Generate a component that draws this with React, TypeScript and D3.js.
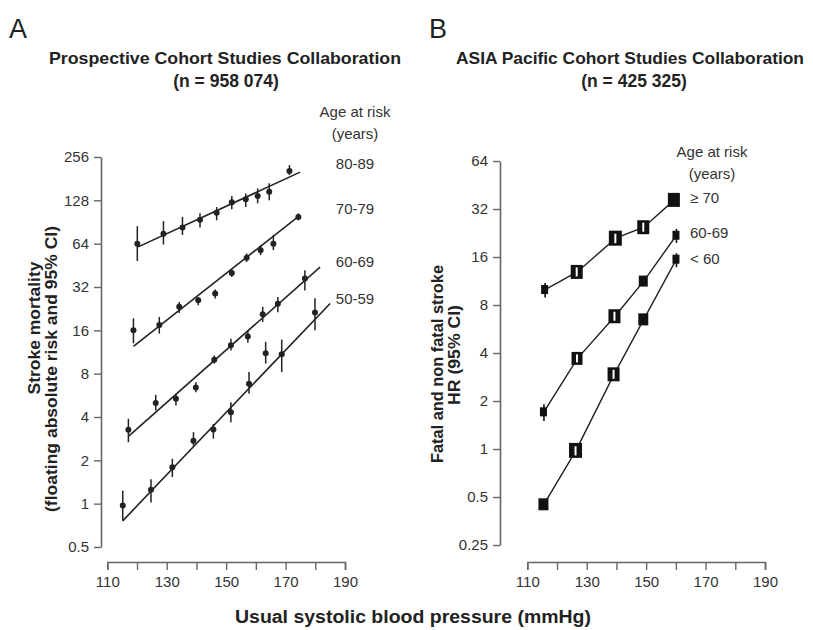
import React, { useEffect, useRef } from "react";
import * as d3 from "d3";

// ---------- Panel A data (Prospective Cohort Studies Collaboration) ----------
const groupsA = ["80-89", "70-79", "60-69", "50-59"];
const bpA80 = [120.1, 128.9, 135.3, 141.2, 146.8, 151.9, 156.6, 160.6, 164.5, 171.3];
const valA80 = [64, 75, 83, 94, 105, 124, 130, 137, 147, 205];
const loA80 = [48.5, 63.2, 73.5, 83, 93, 111, 115, 122, 128, 192];
const hiA80 = [84.6, 91.8, 98.3, 104, 115, 137, 143, 155, 168, 225];

const bpA70 = [118.8, 127.5, 134.2, 140.6, 146.3, 151.9, 156.9, 161.6, 165.9, 174.3];
const valA70 = [16, 17.4, 23.3, 25.9, 28.8, 40, 51, 57.7, 64, 98];
const loA70 = [13, 15.2, 21.1, 23.9, 26.6, 37.6, 47.8, 53.2, 57.7, 93];
const hiA70 = [19.4, 19.8, 25.2, 27.3, 30.7, 42.3, 54.7, 62.5, 73.5, 104];

const bpA60 = [117.1, 126.3, 133.1, 139.8, 146, 151.6, 157.3, 162.3, 167.4, 176.5];
const valA60 = [3.26, 5.0, 5.35, 6.4, 10, 12.6, 14.5, 20.7, 24.5, 36.7];
const loA60 = [2.67, 4.44, 4.8, 5.95, 9.4, 11.6, 13.1, 18.3, 21.4, 30.3];
const hiA60 = [3.89, 5.7, 5.8, 6.98, 10.7, 14, 16, 23.3, 27.3, 41.9];

const bpA50 = [115.2, 124.7, 131.9, 139, 145.7, 151.6, 157.7, 163.3, 168.7, 179.9];
const valA50 = [0.97, 1.25, 1.79, 2.74, 3.27, 4.32, 6.8, 11.1, 10.9, 21.3];
const loA50 = [0.76, 1.02, 1.53, 2.53, 2.83, 3.68, 5.8, 9.4, 8.2, 16];
const hiA50 = [1.23, 1.48, 2.05, 3.14, 3.58, 5.06, 8.2, 13.3, 13.8, 26.7];

// fitted regression lines: [bpStart, valueStart, bpEnd, valueEnd]
const fitA80 = [120.4, 60.8, 174.9, 201];
const fitA70 = [118.8, 12.4, 174.9, 101];
const fitA60 = [117.1, 2.93, 181.6, 44];
const fitA50 = [115.2, 0.76, 185, 24.6];

const yTicksA = [0.5, 1, 2, 4, 8, 16, 32, 64, 128, 256];
const xTicks = [110, 120, 130, 140, 150, 160, 170, 180, 190];
const xTickLabels = [110, 130, 150, 170, 190];

// ---------- Panel B data (Asia Pacific Cohort Studies Collaboration) ----------
const groupsB = ["\u2265 70", "60-69", "< 60"];
const bpB70 = [116, 126.8, 139.8, 149.2, 159.5];
const valB70 = [10.0, 12.9, 21, 24.6, 36.5];
const loB70 = [8.9, 11.8, 19.4, 22.6, 34.6];
const hiB70 = [11.0, 13.8, 22.4, 26.6, 38.4];
const sizeB70 = [8, 13, 14, 13, 13];

const bpB60 = [115.6, 126.9, 139.5, 149.2, 160.2];
const valB60 = [1.71, 3.7, 6.8, 11.3, 21.9];
const loB60 = [1.5, 3.43, 6.2, 10.6, 19.6];
const hiB60 = [1.91, 4.0, 7.4, 12.0, 24];
const sizeB60 = [8, 12, 13, 10, 8];

const bpBlt = [115.6, 126.4, 139.2, 149.2, 160.2];
const valBlt = [0.45, 0.98, 2.94, 6.5, 15.5];
const loBlt = [0.43, 0.9, 2.75, 6.1, 13.8];
const hiBlt = [0.47, 1.04, 3.17, 6.9, 16.9];
const sizeBlt = [11, 14, 13, 11, 8];

const yTicksB = [0.25, 0.5, 1, 2, 4, 8, 16, 32, 64];

const FONT = "'Liberation Sans', Arial, sans-serif";
const INK = "#222";
const AXIS = "#666";
const TXT = "#333";

export default function App() {
  const ref = useRef<SVGSVGElement | null>(null);

  useEffect(() => {
    const svg = d3.select(ref.current);
    svg.selectAll("*").remove();

    const xA = d3.scaleLinear().domain([110, 190]).range([107.3, 345]);
    const yA = d3.scaleLog().base(2).domain([0.5, 256]).range([547, 157]);
    const xB = d3.scaleLinear().domain([110, 190]).range([527.3, 765]);
    const yB = d3.scaleLog().base(2).domain([0.25, 64]).range([545, 161]);

    const fmt = (d: number) => String(d);

    const styleAxis = (g: any) => {
      g.selectAll("path").attr("stroke", AXIS).attr("stroke-width", 1.6);
      g.selectAll("line").attr("stroke", AXIS).attr("stroke-width", 1.4);
      g.selectAll("text")
        .attr("fill", TXT)
        .style("font-family", FONT)
        .style("font-size", "15px");
      g.attr("font-family", null).attr("font-size", null);
    };

    // ---- axes A ----
    const gyA = svg.append("g").attr("transform", "translate(101,0)")
      .call(d3.axisLeft(yA).tickValues(yTicksA).tickFormat(fmt as any).tickSize(7).tickSizeOuter(0).tickPadding(5));
    styleAxis(gyA);
    const gxA = svg.append("g").attr("transform", "translate(0,562)")
      .call(d3.axisBottom(xA).tickValues(xTicks).tickFormat((d: any) => (xTickLabels.includes(d) ? String(d) : "")).tickSize(8).tickSizeOuter(8).tickPadding(6));
    styleAxis(gxA);

    // ---- axes B ----
    const gyB = svg.append("g").attr("transform", "translate(500,0)")
      .call(d3.axisLeft(yB).tickValues(yTicksB).tickFormat(fmt as any).tickSize(7).tickSizeOuter(0).tickPadding(5));
    styleAxis(gyB);
    const gxB = svg.append("g").attr("transform", "translate(0,562)")
      .call(d3.axisBottom(xB).tickValues(xTicks).tickFormat((d: any) => (xTickLabels.includes(d) ? String(d) : "")).tickSize(8).tickSizeOuter(8).tickPadding(6));
    styleAxis(gxB);

    // ---- panel A marks ----
    const seriesA = [
      { bp: bpA80, v: valA80, lo: loA80, hi: hiA80, fit: fitA80 },
      { bp: bpA70, v: valA70, lo: loA70, hi: hiA70, fit: fitA70 },
      { bp: bpA60, v: valA60, lo: loA60, hi: hiA60, fit: fitA60 },
      { bp: bpA50, v: valA50, lo: loA50, hi: hiA50, fit: fitA50 },
    ];
    const gA = svg.append("g");
    seriesA.forEach((s) => {
      const line = d3.line<number[]>().x((d) => xA(d[0])).y((d) => yA(d[1]));
      gA.append("path")
        .attr("d", line([[s.fit[0], s.fit[1]], [s.fit[2], s.fit[3]]]))
        .attr("stroke", INK).attr("stroke-width", 1.6).attr("fill", "none");
      s.bp.forEach((b, i) => {
        gA.append("line")
          .attr("x1", xA(b)).attr("x2", xA(b))
          .attr("y1", yA(s.lo[i])).attr("y2", yA(s.hi[i]))
          .attr("stroke", INK).attr("stroke-width", 1.5);
        gA.append("circle")
          .attr("cx", xA(b)).attr("cy", yA(s.v[i])).attr("r", 3)
          .attr("fill", INK);
      });
    });

    // ---- panel B marks ----
    const seriesB = [
      { bp: bpB70, v: valB70, lo: loB70, hi: hiB70, sz: sizeB70 },
      { bp: bpB60, v: valB60, lo: loB60, hi: hiB60, sz: sizeB60 },
      { bp: bpBlt, v: valBlt, lo: loBlt, hi: hiBlt, sz: sizeBlt },
    ];
    const gB = svg.append("g");
    seriesB.forEach((s) => {
      const pts = s.bp.map((b, i) => [b, s.v[i]]);
      const line = d3.line<number[]>().x((d) => xB(d[0])).y((d) => yB(d[1]));
      gB.append("path").attr("d", line(pts)).attr("stroke", INK)
        .attr("stroke-width", 1.4).attr("fill", "none");
      s.bp.forEach((b, i) => {
        const cx = xB(b), cy = yB(s.v[i]), h = s.sz[i];
        const span = yB(s.lo[i]) - yB(s.hi[i]);
        gB.append("line")
          .attr("x1", cx).attr("x2", cx)
          .attr("y1", yB(s.lo[i])).attr("y2", yB(s.hi[i]))
          .attr("stroke", "#111").attr("stroke-width", 1.6);
        gB.append("rect")
          .attr("x", cx - h / 2).attr("y", cy - h / 2 - 0.5)
          .attr("width", h - 1).attr("height", h + 1)
          .attr("fill", "#111");
        if (h >= 12 && span > 9) {
          const top = Math.max(yB(s.hi[i]), cy - h / 2 + 2);
          const bot = Math.min(yB(s.lo[i]), cy + h / 2 - 2);
          gB.append("line")
            .attr("x1", cx - 0.5).attr("x2", cx - 0.5)
            .attr("y1", top).attr("y2", bot)
            .attr("stroke", "#fff").attr("stroke-width", 2);
        }
      });
    });

    // ---- text helpers ----
    const t = (x: number, y: number, s: string, opts: any = {}) => {
      const el = svg.append("text").attr("x", x).attr("y", y).text(s)
        .attr("fill", opts.fill || TXT)
        .attr("text-anchor", opts.anchor || "middle")
        .attr("font-weight", opts.weight || "normal")
        .style("font-family", FONT)
        .style("font-size", (opts.size || 15) + "px");
      if (opts.len) el.attr("textLength", opts.len).attr("lengthAdjust", "spacingAndGlyphs");
      return el;
    };

    t(355, 117, "Age at risk");
    t(355, 139, "(years)");
    groupsA.forEach((g, i) => t(355, [169, 214, 267, 304][i], g));

    t(712, 157, "Age at risk");
    t(712, 179, "(years)");
    groupsB.forEach((g, i) => t(690, [203, 238, 264][i], g, { anchor: "start" }));

    // ---- titles ----
    t(9, 38, "A", { anchor: "start", size: 27, fill: "#222" });
    t(429, 38, "B", { anchor: "start", size: 27, fill: "#222" });
    t(225, 64, "Prospective Cohort Studies Collaboration", { weight: "bold", size: 17, fill: "#222", len: 352 });
    t(226, 87, "(n = 958 074)", { weight: "bold", size: 17.5, fill: "#222" });
    t(630, 64, "ASIA Pacific Cohort Studies Collaboration", { weight: "bold", size: 17, fill: "#222", len: 348 });
    t(634, 87, "(n = 425 325)", { weight: "bold", size: 17.5, fill: "#222" });

    const rot = (x: number, y: number, s: string, len: number) =>
      svg.append("text").attr("transform", `translate(${x},${y}) rotate(-90)`)
        .text(s).attr("text-anchor", "middle").attr("font-weight", "bold")
        .attr("fill", "#222").style("font-family", FONT).style("font-size", "17px")
        .attr("textLength", len).attr("lengthAdjust", "spacingAndGlyphs");
    rot(40, 328, "Stroke mortality", 133);
    rot(57, 369, "(floating absolute risk and 95% CI)", 286);
    rot(443, 364, "Fatal and non fatal stroke", 198);
    rot(460, 355, "HR (95% CI)", 100);

    t(413, 623, "Usual systolic blood pressure (mmHg)", { weight: "bold", size: 18, fill: "#222", len: 356 });
  }, []);

  return (
    <svg
      ref={ref}
      width={813}
      height={630}
      style={{ position: "absolute", left: 0, top: 0, background: "#fff" }}
    />
  );
}
